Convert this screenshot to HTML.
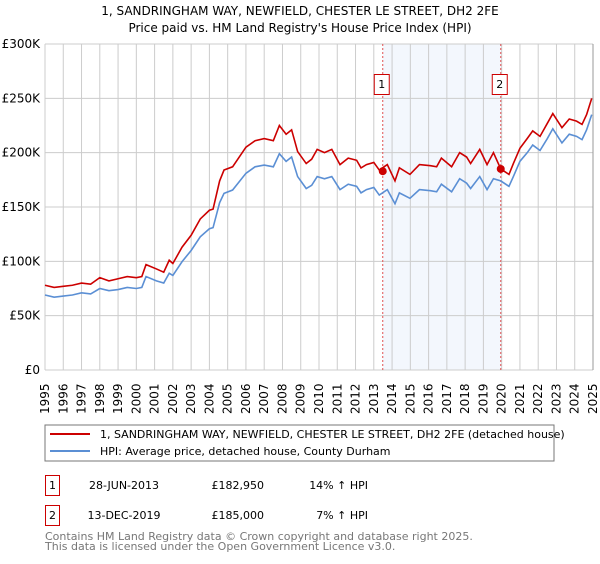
<!DOCTYPE html>
<html><head><meta charset="utf-8"><style>
body{margin:0;background:#fff;font-family:"DejaVu Sans","Liberation Sans",sans-serif;}
svg text{font-family:"DejaVu Sans","Liberation Sans",sans-serif;}
</style></head><body>
<svg id="c" width="600" height="560" xmlns="http://www.w3.org/2000/svg">
<text x="300" y="15" text-anchor="middle" font-size="12">1, SANDRINGHAM WAY, NEWFIELD, CHESTER LE STREET, DH2 2FE</text>
<text x="300" y="32" text-anchor="middle" font-size="12">Price paid vs. HM Land Registry's House Price Index (HPI)</text>
<g id="grid"></g><g id="plot"></g><g id="axes"></g>
<rect x="45" y="425" width="509" height="36" fill="#fff" stroke="#777"/>
<line x1="50" y1="434" x2="90" y2="434" stroke="#cc0000" stroke-width="2"/>
<text x="100" y="438" font-size="11">1, SANDRINGHAM WAY, NEWFIELD, CHESTER LE STREET, DH2 2FE (detached house)</text>
<line x1="50" y1="451" x2="90" y2="451" stroke="#5b8fd4" stroke-width="2"/>
<text x="100" y="455" font-size="11">HPI: Average price, detached house, County Durham</text>
<g>
<rect x="45.5" y="475.5" width="14" height="20" fill="#fff" stroke="#cc0000"/>
<text x="52.5" y="489" text-anchor="middle" font-size="11">1</text>
<text x="124" y="489" text-anchor="middle" font-size="11">28-JUN-2013</text>
<text x="264" y="489" text-anchor="end" font-size="11">£182,950</text>
<text x="368" y="489" text-anchor="end" font-size="11">14% ↑ HPI</text></g>
<g>
<rect x="45.5" y="505.5" width="14" height="20" fill="#fff" stroke="#cc0000"/>
<text x="52.5" y="519" text-anchor="middle" font-size="11">2</text>
<text x="124" y="519" text-anchor="middle" font-size="11">13-DEC-2019</text>
<text x="264" y="519" text-anchor="end" font-size="11">£185,000</text>
<text x="368" y="519" text-anchor="end" font-size="11">7% ↑ HPI</text></g>
<text x="45" y="540" font-size="11" fill="#777">Contains HM Land Registry data © Crown copyright and database right 2025.</text>
<text x="45" y="550" font-size="11" fill="#777">This data is licensed under the Open Government Licence v3.0.</text>
</svg>
<script>
const hpiYears=[1995,1995.5,1996,1996.5,1997,1997.5,1998,1998.5,1999,1999.5,2000,2000.3,2000.53,2001.1,2001.5,2001.8,2002,2002.5,2003,2003.5,2004,2004.2,2004.56,2004.8,2005.27,2006,2006.5,2007,2007.5,2007.83,2008.2,2008.5,2008.83,2009.3,2009.6,2009.9,2010.3,2010.7,2011.15,2011.6,2012.06,2012.3,2012.6,2013,2013.3,2013.74,2014.16,2014.4,2014.98,2015.5,2016.1,2016.44,2016.7,2017.26,2017.7,2018.08,2018.3,2018.8,2019.2,2019.55,2019.95,2020.4,2020.64,2021,2021.4,2021.7,2022.1,2022.5,2022.8,2023.3,2023.7,2024.1,2024.4,2024.65,2024.93];
const hpiValues=[69,67,68,69,71,70,75,73,74,76,75,76,86,82,80,89,87,99.6,110,122.6,130,131,154,162.5,165.6,181,187,188.6,187,199,192,196,178,167,170,178,176,178,166,171,169,163,166,168,161,166,153,163,158,166,165,164,171,164,176,172,167,178,166,176,174,169,178,192,200,207,202,213,222,209,217,215,212,221,235];
const priceValues=[78,76,77,78,80,79,85,82,84,86,85,86,97,93,90,101,98,113,124,139,147,148,174,184,187,205,211,213,211,225,217,221,201,190,194,203,200,203,189,195,193,186,189,191,184,189,174,186,180,189,188,187,195,187,200,196,190,203,189,200,185,180,190,204,213,220,215,227,236,223,231,229,226,235,250];
const saleYears=[2013.49,2019.95];
const saleValues=[182.95,185];
const saleLabels=["1","2"];
const yTicks=[0,50,100,150,200,250,300];
const yTickLabels=["£0","£50K","£100K","£150K","£200K","£250K","£300K"];
const xTicks=[1995,1996,1997,1998,1999,2000,2001,2002,2003,2004,2005,2006,2007,2008,2009,2010,2011,2012,2013,2014,2015,2016,2017,2018,2019,2020,2021,2022,2023,2024,2025];
const NS="http://www.w3.org/2000/svg";
const X0=45,X1=593,Y0=370,Y1=44;
const xs=y=>X0+(y-1995)/30*(X1-X0);
const ys=v=>Y0-v/300*(Y0-Y1);
function mk(t,a,p){const e=document.createElementNS(NS,t);for(const k in a)e.setAttribute(k,a[k]);p.appendChild(e);return e;}
const grid=document.getElementById('grid'),plot=document.getElementById('plot'),axes=document.getElementById('axes');
const shade=mk('rect',{x:xs(saleYears[0]),y:Y1,width:xs(saleYears[1])-xs(saleYears[0]),height:Y0-Y1,fill:'#eef3fc',opacity:0.7},grid);


xTicks.forEach(t=>{const l=mk('line',{x1:xs(t),x2:xs(t),y1:Y1,y2:Y0,stroke:'#ccc'},grid);


const tx=mk('text',{transform:`translate(${xs(t)+4},414) rotate(-90)`,'font-size':12},axes);tx.textContent=t;

});
yTicks.forEach((t,i)=>{const l=mk('line',{x1:X0,x2:X1,y1:ys(t),y2:ys(t),stroke:'#ccc'},grid);


const tx=mk('text',{x:40,y:ys(t)+4,'text-anchor':'end','font-size':12},axes);tx.textContent=yTickLabels[i];

});
const rb=mk('line',{x1:X1,x2:X1,y1:Y1,y2:Y0,stroke:'#999'},grid);


saleYears.forEach((y,i)=>{const l=mk('line',{x1:xs(y),x2:xs(y),y1:Y1,y2:Y0,stroke:'#e05050','stroke-dasharray':'2,2'},plot);

});
const hp=mk('polyline',{points:hpiYears.map((y,i)=>xs(y)+','+ys(hpiValues[i])).join(' '),fill:'none',stroke:'#5b8fd4','stroke-width':1.6},plot);


const pp=mk('polyline',{points:hpiYears.map((y,i)=>xs(y)+','+ys(priceValues[i])).join(' '),fill:'none',stroke:'#cc0000','stroke-width':1.6},plot);


saleYears.forEach((y,i)=>{const c=mk('circle',{cx:xs(y),cy:ys(saleValues[i]),r:4,fill:'#cc0000'},plot);


const r=mk('rect',{x:xs(y)-8.5,y:74.5,width:15,height:20,fill:'#fff',stroke:'#cc0000'},plot);


const t=mk('text',{x:xs(y)-1,y:88,'text-anchor':'middle','font-size':11},plot);t.textContent=saleLabels[i];

});
</script>
</body></html>
